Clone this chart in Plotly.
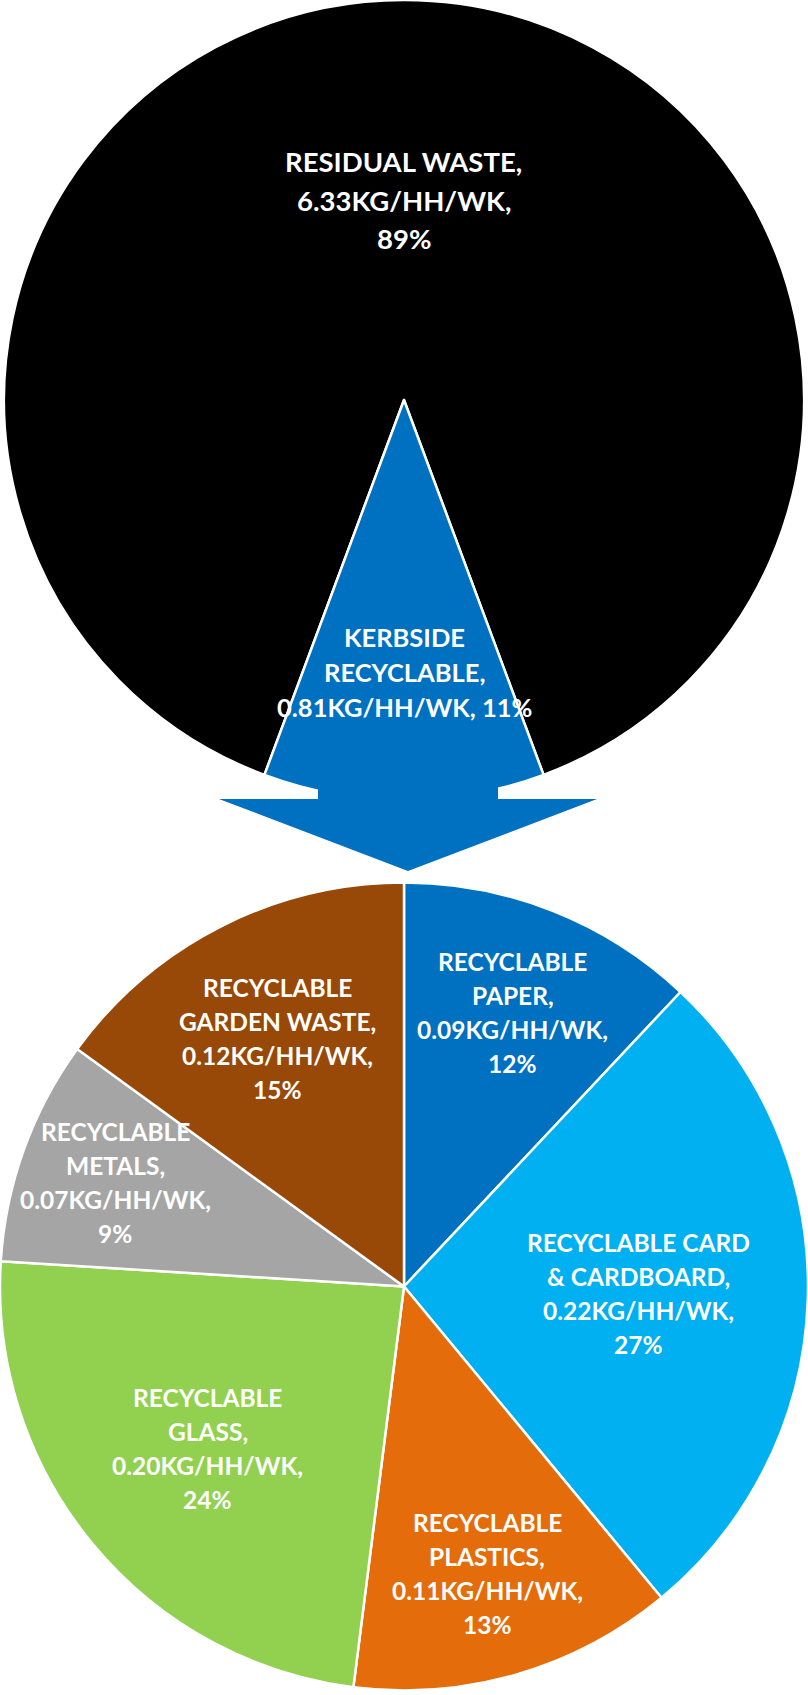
import math
import plotly.graph_objects as go

# ---------------- data ----------------
top_labels = ["RESIDUAL WASTE", "KERBSIDE RECYCLABLE"]
top_kg = [6.33, 0.81]
top_pct = [89, 11]

bottom_labels = ["RECYCLABLE PAPER", "RECYCLABLE CARD & CARDBOARD", "RECYCLABLE PLASTICS",
                 "RECYCLABLE GLASS", "RECYCLABLE METALS", "RECYCLABLE GARDEN WASTE"]
bottom_kg = [0.09, 0.22, 0.11, 0.20, 0.07, 0.12]
bottom_pct = [12, 27, 13, 24, 9, 15]

# ---------------- style / layout ----------------
W, H = 808, 1695
top_colors = ["#000000", "#0070C0"]
bottom_colors = ["#0070C0", "#00B0F0", "#E46C0A", "#92D050", "#A5A5A5", "#984807"]

top_text = ["RESIDUAL WASTE,<br>6.33KG/HH/WK,<br>89%",
            "KERBSIDE<br>RECYCLABLE,<br>0.81KG/HH/WK, 11%"]
bottom_text = ["RECYCLABLE<br>PAPER,<br>0.09KG/HH/WK,<br>12%",
               "RECYCLABLE CARD<br>& CARDBOARD,<br>0.22KG/HH/WK,<br>27%",
               "RECYCLABLE<br>PLASTICS,<br>0.11KG/HH/WK,<br>13%",
               "RECYCLABLE<br>GLASS,<br>0.20KG/HH/WK,<br>24%",
               "RECYCLABLE<br>METALS,<br>0.07KG/HH/WK,<br>9%",
               "RECYCLABLE<br>GARDEN WASTE,<br>0.12KG/HH/WK,<br>15%"]
top_label_r = [0.50, 0.68]
bottom_label_r = [0.73, 0.58, 0.74, 0.63, 0.76, 0.69]

top_h = 800          # px height of top pie domain
bot_h = 817          # px height of bottom pie domain
TOP_FONT = dict(family="Lato, Open Sans, sans-serif", size=[27.5, 25][0], color="white", weight=700)
KERB_FONT = dict(family="Lato, Open Sans, sans-serif", size=25.5, color="white", weight=700)
BOT_FONT = dict(family="Lato, Open Sans, sans-serif", size=24.5, color="white", weight=700)
TOP_SPACING = [38, 35]
BOT_SPACING = 34

# rotation so that the kerbside slice is centered at the bottom
kerb_frac = top_kg[1] / sum(top_kg)
top_rotation = 180 + kerb_frac * 180

fig = go.Figure()
fig.add_trace(go.Pie(
    labels=top_labels, values=top_kg, sort=False, direction="clockwise",
    rotation=top_rotation, marker=dict(colors=top_colors, line=dict(color="white", width=2.5)),
    textinfo="none", hoverinfo="label+value", showlegend=False,
    domain=dict(x=[0, 1], y=[1 - top_h / H, 1])))
fig.add_trace(go.Pie(
    labels=bottom_labels, values=bottom_pct, sort=False, direction="clockwise",
    rotation=0, marker=dict(colors=bottom_colors, line=dict(color="white", width=2.5)),
    textinfo="none", hoverinfo="label+value", showlegend=False,
    domain=dict(x=[0, 1], y=[0, bot_h / H])))


def label_positions(values, rotation, r_list, cx, cy, R):
    total = sum(values)
    out = []
    cum = 0
    for v, rf in zip(values, r_list):
        mid = rotation + (cum + v / 2) / total * 360
        cum += v
        a = math.radians(mid)
        out.append((cx + rf * R * math.sin(a), cy - rf * R * math.cos(a)))
    return out


annotations = []


def add_label(px, py, text, font, spacing):
    lines = text.split("<br>")
    n = len(lines)
    for i, ln in enumerate(lines):
        ly = py + (i - (n - 1) / 2) * spacing
        annotations.append(dict(x=px / W, y=1 - ly / H, xref="paper", yref="paper", text=ln,
                                showarrow=False, font=font, xanchor="center", yanchor="middle"))


tR = min(W, top_h) / 2
tcx, tcy = W / 2, top_h / 2
for k, ((px, py), t) in enumerate(zip(label_positions(top_kg, top_rotation, top_label_r, tcx, tcy, tR), top_text)):
    add_label(px, py, t, TOP_FONT if k == 0 else KERB_FONT, TOP_SPACING[k])

bR = min(W, bot_h) / 2
bcx, bcy = W / 2, H - bot_h / 2
for (px, py), t in zip(label_positions(bottom_pct, 0, bottom_label_r, bcx, bcy, bR), bottom_text):
    add_label(px, py, t, BOT_FONT, BOT_SPACING)

# arrow decoration (pixel coordinates converted to paper)
arrow_px = [(318, 760), (498, 760), (498, 799), (597, 799), (408, 871), (219, 799), (318, 799)]
path = "M " + " L ".join(f"{x / W:.5f},{1 - y / H:.5f}" for x, y in arrow_px) + " Z"
shapes = [dict(type="path", path=path, xref="paper", yref="paper",
               fillcolor="#0070C0", line=dict(width=0), layer="above")]

fig.update_layout(width=W, height=H, margin=dict(l=0, r=0, t=0, b=0),
                  paper_bgcolor="white", plot_bgcolor="white",
                  annotations=annotations, shapes=shapes, showlegend=False)
fig.write_html("out.html")
